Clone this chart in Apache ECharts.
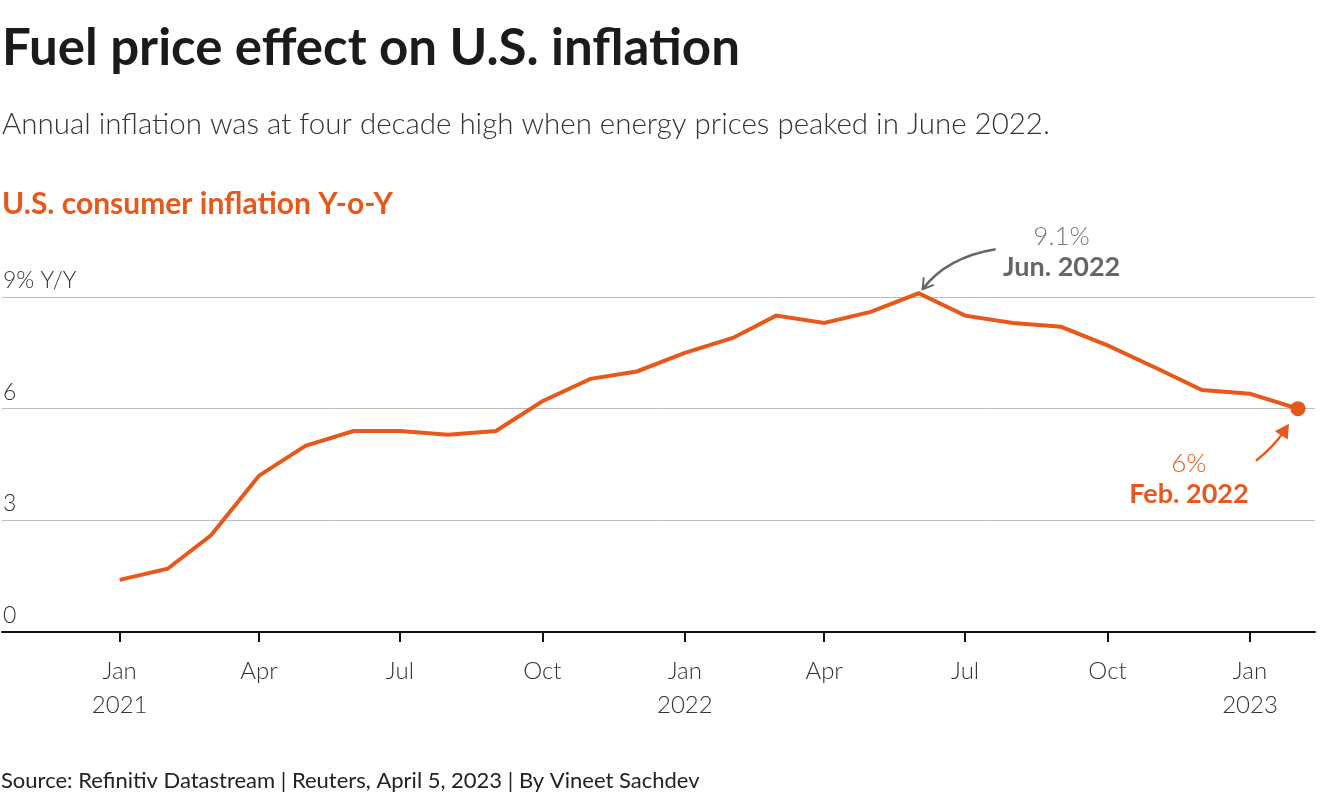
<!DOCTYPE html>
<html><head><meta charset="utf-8">
<script src="https://cdn.jsdelivr.net/npm/echarts@6/dist/echarts.min.js"></script>
<style>html,body{margin:0;padding:0;background:#fff}#c{width:1320px;height:800px}</style>
</head><body><div id="c"></div>
<script>
const months = ['2021-01','2021-02','2021-03','2021-04','2021-05','2021-06','2021-07','2021-08','2021-09','2021-10','2021-11','2021-12',
  '2022-01','2022-02','2022-03','2022-04','2022-05','2022-06','2022-07','2022-08','2022-09','2022-10','2022-11','2022-12',
  '2023-01','2023-02'];
const cpi = [1.4,1.7,2.6,4.2,5.0,5.4,5.4,5.3,5.4,6.2,6.8,7.0,
  7.5,7.9,8.5,8.3,8.6,9.1,8.5,8.3,8.2,7.7,7.1,6.5,
  6.4,6.0];
const tickMonths = ['2021-01','2021-04','2021-07','2021-10','2022-01','2022-04','2022-07','2022-10','2023-01'];
const yTicks = [0,3,6,9];
const monthNames = ['Jan','Feb','Mar','Apr','May','Jun','Jul','Aug','Sep','Oct','Nov','Dec'];
const peakMonth = '2022-06', peakLabel = '9.1%', peakDate = 'Jun. 2022';
const lastMonth = '2023-02', lastLabel = '6%', lastDate = 'Feb. 2022';

const FONT = 'Lato, "Noto Sans", sans-serif';
const ORANGE = '#e6591a';
function ts(m){ const [y,mo]=m.split('-').map(Number); return Date.UTC(y,mo-1,1); }
const lineData = months.map((m,i)=>[ts(m), cpi[i]]);
const li = months.indexOf(lastMonth);
const pi = months.indexOf(peakMonth);

const chart = echarts.init(document.getElementById('c'), null, {renderer:'canvas'});
const option = {
  animation:false,
  title:[
    {text:'Fuel price effect on U.S. inflation', left:-3, top:18, textStyle:{fontFamily:FONT, fontWeight:'bold', fontSize:51, color:'#1b1b1b'}},
    {text:'Annual inflation was at four decade high when energy prices peaked in June 2022.', left:-3, top:104, textStyle:{fontFamily:FONT, fontWeight:300, fontSize:29.5, color:'#333'}},
    {text:'U.S. consumer inflation Y-o-Y', left:-3, top:184, textStyle:{fontFamily:FONT, fontWeight:'bold', fontSize:30, color:ORANGE}},
    {text:'Source: Refinitiv Datastream | Reuters, April 5, 2023 | By Vineet Sachdev', left:-4, top:765, textStyle:{fontFamily:FONT, fontWeight:'normal', fontSize:22, color:'#222'}}
  ],
  grid:{left:0, right:5, top:297, bottom:168, containLabel:false},
  xAxis:{
    type:'value',
    min:Date.UTC(2020,9,17),
    max:Date.UTC(2023,1,12),
    axisLine:{lineStyle:{color:'#111', width:2}},
    axisTick:{show:true, length:10, lineStyle:{color:'#111', width:2}, customValues:tickMonths.map(ts)},
    splitLine:{show:false},
    axisLabel:{
      customValues:tickMonths.map(ts),
      margin:22, fontFamily:FONT, fontWeight:300, fontSize:24, lineHeight:34, color:'#333',
      formatter:function(v){ const d=new Date(v); const m=monthNames[d.getUTCMonth()]; return d.getUTCMonth()===0 ? m+'\n'+d.getUTCFullYear() : m; }
    }
  },
  yAxis:{
    type:'value', min:0, max:9, interval:3,
    axisLine:{show:false}, axisTick:{show:false},
    splitLine:{lineStyle:{color:'#bdbdbd', width:1}},
    axisLabel:{inside:true, margin:1, verticalAlign:'bottom', padding:[0,0,5,0],
      fontFamily:FONT, fontWeight:300, fontSize:23, color:'#333',
      formatter:function(v){ return v===9 ? '9% Y/Y' : String(v); }}
  },
  series:[
    {type:'line', data:lineData, showSymbol:false, clip:false, z:3,
     lineStyle:{color:ORANGE, width:4, join:'miter'}},
    {type:'scatter', data:[lineData[li]], symbol:'circle', symbolSize:15, clip:false, z:4,
     itemStyle:{color:ORANGE, opacity:1}}
  ]
};
chart.setOption(option);

function arrow(x1,y1,cx,cy,x2,y2,color,filled){
  const ang = Math.atan2(y2-cy, x2-cx);
  const L = filled?16:12, W = filled?0.5:0.55;
  const a1=[x2-L*Math.cos(ang-W), y2-L*Math.sin(ang-W)];
  const a2=[x2-L*Math.cos(ang+W), y2-L*Math.sin(ang+W)];
  const els = [{type:'bezierCurve', shape:{x1:x1,y1:y1,cpx1:cx,cpy1:cy,x2:filled?(x2-8*Math.cos(ang)):x2,y2:filled?(y2-8*Math.sin(ang)):y2},
    style:{stroke:color, lineWidth:2.5, fill:null}, z:10}];
  if(filled) els.push({type:'polygon', shape:{points:[[x2,y2],a1,a2]}, style:{fill:color}, z:10});
  else els.push({type:'polyline', shape:{points:[a1,[x2,y2],a2]}, style:{stroke:color, lineWidth:2, fill:null}, z:10});
  return els;
}
const pp = chart.convertToPixel({gridIndex:0}, lineData[pi]);
const lp = chart.convertToPixel({gridIndex:0}, lineData[li]);
const g = [];
g.push(...arrow(pp[0]+77, pp[1]-44, pp[0]+28, pp[1]-36, pp[0]+4, pp[1]-4, '#666', false));
g.push({type:'text', x:pp[0]+143, y:pp[1]-57, style:{text:peakLabel, fontFamily:FONT, fontWeight:300, fontSize:26, fill:'#777', align:'center', verticalAlign:'middle'}, z:10});
g.push({type:'text', x:pp[0]+143, y:pp[1]-26, style:{text:peakDate, fontFamily:FONT, fontWeight:'bold', fontSize:27, fill:'#666', align:'center', verticalAlign:'middle'}, z:10});
g.push(...arrow(lp[0]-42, lp[1]+52, lp[0]-24, lp[1]+38, lp[0]-9, lp[1]+15, ORANGE, true));
g.push({type:'text', x:lp[0]-109, y:lp[1]+55, style:{text:lastLabel, fontFamily:FONT, fontWeight:300, fontSize:26, fill:ORANGE, align:'center', verticalAlign:'middle'}, z:10});
g.push({type:'text', x:lp[0]-109, y:lp[1]+86, style:{text:lastDate, fontFamily:FONT, fontWeight:'bold', fontSize:27, fill:ORANGE, align:'center', verticalAlign:'middle'}, z:10});
chart.setOption({graphic:g});
</script></body></html>
